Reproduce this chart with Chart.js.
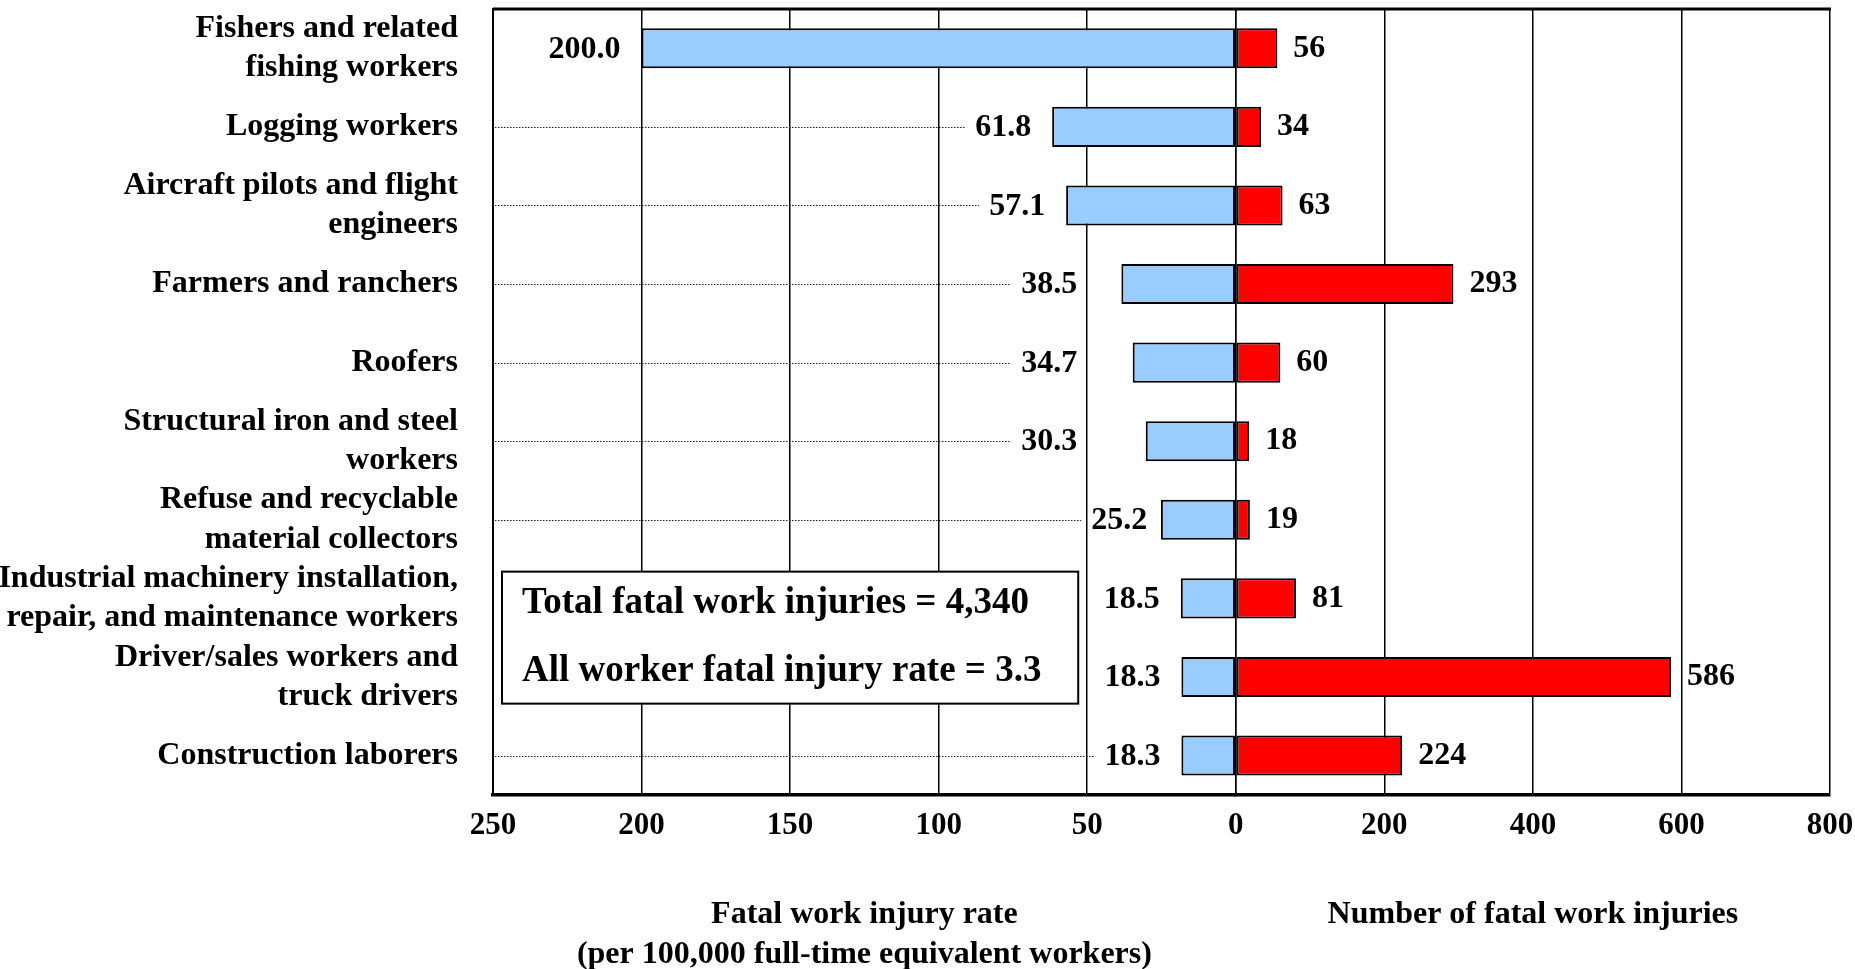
<!DOCTYPE html>
<html>
<head>
<meta charset="utf-8">
<title>Fatal work injuries by occupation</title>
<script src="https://cdn.jsdelivr.net/npm/chart.js"></script>
<style>
    html, body { margin: 0; padding: 0; background: #fff; }
    #wrap { width: 1855px; height: 969px; position: relative; }
</style>
</head>
<body>
<div id="wrap"><canvas id="injury-chart"></canvas></div>
<script>
// Occupations with the highest fatal work injury rates

const occupations = [
    ['Fishers and related', 'fishing workers'],
    'Logging workers',
    ['Aircraft pilots and flight', 'engineers'],
    'Farmers and ranchers',
    'Roofers',
    ['Structural iron and steel', 'workers'],
    ['Refuse and recyclable', 'material collectors'],
    ['Industrial machinery installation,', 'repair, and maintenance workers'],
    ['Driver/sales workers and', 'truck drivers'],
    'Construction laborers'
];
const fatalRates = [200.0, 61.8, 57.1, 38.5, 34.7, 30.3, 25.2, 18.5, 18.3, 18.3];
const fatalCounts = [56, 34, 63, 293, 60, 18, 19, 81, 586, 224];

const rateTicks = [250, 200, 150, 100, 50, 0];
const countTicks = [0, 200, 400, 600, 800];

const rateTitle = ['Fatal work injury rate', '(per 100,000 full-time equivalent workers)'];
const countTitle = ['Number of fatal work injuries', ''];
const summaryLines = ['Total fatal work injuries = 4,340', 'All worker fatal injury rate = 3.3'];

const SERIF = "'Liberation Serif', 'Times New Roman', serif";

Chart.defaults.font.family = SERIF;
Chart.defaults.color = '#000';

function noPadding(scale) {
    scale.paddingLeft = 0;
    scale.paddingRight = 0;
    scale.paddingTop = 0;
    scale.paddingBottom = 0;
}

const labelPlugin = {
    id: 'barLabels',
    afterDatasetsDraw(chart) {
        const { ctx, chartArea, scales } = chart;
        const xRate = scales.xRate;
        const y = scales.y;
        const rateMeta = chart.getDatasetMeta(0);
        const countMeta = chart.getDatasetMeta(1);
        const gridPx = rateTicks.map(v => xRate.getPixelForValue(v));

        // summary box sits between the 8th and 9th rows
        const mid = (y.getPixelForValue(7) + y.getPixelForValue(8)) / 2;
        const box = {
            left: chartArea.left + 9,
            right: xRate.getPixelForValue(50) - 9,
            top: mid - 66,
            bottom: mid + 66
        };

        ctx.save();
        ctx.font = 'bold 32px ' + SERIF;
        ctx.fillStyle = '#000';
        ctx.textBaseline = 'middle';
        ctx.textAlign = 'left';

        rateMeta.data.forEach((bar, i) => {
            const text = fatalRates[i].toFixed(1);
            const w = ctx.measureText(text).width;
            let right = bar.x - 21;
            let left = right - w;
            // keep the label off the grid lines
            gridPx.forEach(g => {
                if (left < g + 4 && right > g - 4) {
                    if (g - left > w / 4) {
                        right = g - 10;
                        left = right - w;
                    } else {
                        left = g + 4;
                        right = left + w;
                    }
                }
            });
            ctx.fillText(text, left, bar.y + 1);

            // dotted leader from the axis to the label
            const end = left - 10;
            const underBox = bar.y > box.top && bar.y < box.bottom;
            if (end - chartArea.left > 80 && !underBox) {
                ctx.save();
                ctx.setLineDash([1.5, 1.5]);
                ctx.lineWidth = 1.2;
                ctx.strokeStyle = '#222';
                ctx.beginPath();
                ctx.moveTo(chartArea.left + 2, Math.round(bar.y) + 0.5);
                ctx.lineTo(end, Math.round(bar.y) + 0.5);
                ctx.stroke();
                ctx.restore();
            }
        });

        countMeta.data.forEach((bar, i) => {
            ctx.fillText(String(fatalCounts[i]), bar.x + 16, bar.y);
        });

        // summary box
        ctx.fillStyle = '#fff';
        ctx.fillRect(box.left, box.top, box.right - box.left, box.bottom - box.top);
        ctx.lineWidth = 2;
        ctx.strokeStyle = '#000';
        ctx.strokeRect(box.left, box.top, box.right - box.left, box.bottom - box.top);
        ctx.fillStyle = '#000';
        ctx.font = 'bold 37px ' + SERIF;
        ctx.fillText(summaryLines[0], box.left + 20, mid - 34);
        ctx.fillText(summaryLines[1], box.left + 20, mid + 34);

        // frame top
        ctx.lineWidth = 3;
        ctx.beginPath();
        ctx.moveTo(chartArea.left, chartArea.top);
        ctx.lineTo(chartArea.right + 1, chartArea.top);
        ctx.stroke();
        ctx.restore();
    }
};

function loadInjuryChart() {
    const ctx = document.getElementById('injury-chart');

    new Chart(ctx, {
        type: 'bar',
        data: {
            labels: occupations,
            datasets: [{
                label: 'Fatal work injury rate',
                data: fatalRates,
                xAxisID: 'xRate',
                backgroundColor: '#99CCFF',
                borderColor: '#000',
                borderWidth: 2,
                borderSkipped: false,
                grouped: false,
                barPercentage: 0.51,
                categoryPercentage: 1
            }, {
                label: 'Number of fatal work injuries',
                data: fatalCounts,
                xAxisID: 'xCount',
                backgroundColor: '#FF0000',
                borderColor: '#000',
                borderWidth: 2,
                borderSkipped: false,
                grouped: false,
                barPercentage: 0.51,
                categoryPercentage: 1
            }]
        },
        options: {
            indexAxis: 'y',
            responsive: true,
            maintainAspectRatio: false,
            animation: false,
            devicePixelRatio: 1,
            layout: {
                padding: { top: 9, right: 25, left: 0, bottom: 0 }
            },
            plugins: {
                legend: { display: false },
                tooltip: { enabled: false }
            },
            scales: {
                y: {
                    type: 'category',
                    position: 'left',
                    grid: { display: false, drawTicks: false },
                    border: { display: true, color: '#000', width: 2 },
                    ticks: {
                        autoSkip: false,
                        padding: 35,
                        color: '#000',
                        font: { size: 32, weight: 'bold', lineHeight: 1.23 }
                    },
                    afterFit: function(scale) {
                        scale.width = 493;
                        noPadding(scale);
                    }
                },
                xRate: {
                    type: 'linear',
                    position: 'bottom',
                    stack: 'bottom',
                    stackWeight: 5,
                    reverse: true,
                    min: 0,
                    max: 250,
                    afterBuildTicks: function(scale) {
                        scale.ticks = rateTicks.map(v => ({ value: v }));
                    },
                    grid: { color: '#000', lineWidth: 1.5, drawTicks: false },
                    border: { color: '#000', width: 3.5 },
                    ticks: {
                        padding: 13,
                        color: '#000',
                        font: { size: 31, weight: 'bold', lineHeight: 1.2 }
                    },
                    title: {
                        display: true,
                        text: rateTitle,
                        color: '#000',
                        font: { size: 32, weight: 'bold', lineHeight: 1.25 },
                        padding: { top: 37, bottom: -6 }
                    },
                    afterFit: noPadding
                },
                xCount: {
                    type: 'linear',
                    position: 'bottom',
                    stack: 'bottom',
                    stackWeight: 4,
                    min: 0,
                    max: 800,
                    afterBuildTicks: function(scale) {
                        scale.ticks = countTicks.map(v => ({ value: v }));
                    },
                    grid: { color: '#000', lineWidth: 1.5, drawTicks: false },
                    border: { color: '#000', width: 3.5 },
                    ticks: {
                        padding: 13,
                        color: '#000',
                        font: { size: 31, weight: 'bold', lineHeight: 1.2 },
                        callback: function(value) {
                            return value === 0 ? '' : value;
                        }
                    },
                    title: {
                        display: true,
                        text: countTitle,
                        color: '#000',
                        font: { size: 32, weight: 'bold', lineHeight: 1.25 },
                        padding: { top: 37, bottom: -6 }
                    },
                    afterFit: noPadding
                }
            }
        },
        plugins: [labelPlugin]
    });
}

document.addEventListener('DOMContentLoaded', loadInjuryChart);
</script>
</body>
</html>
